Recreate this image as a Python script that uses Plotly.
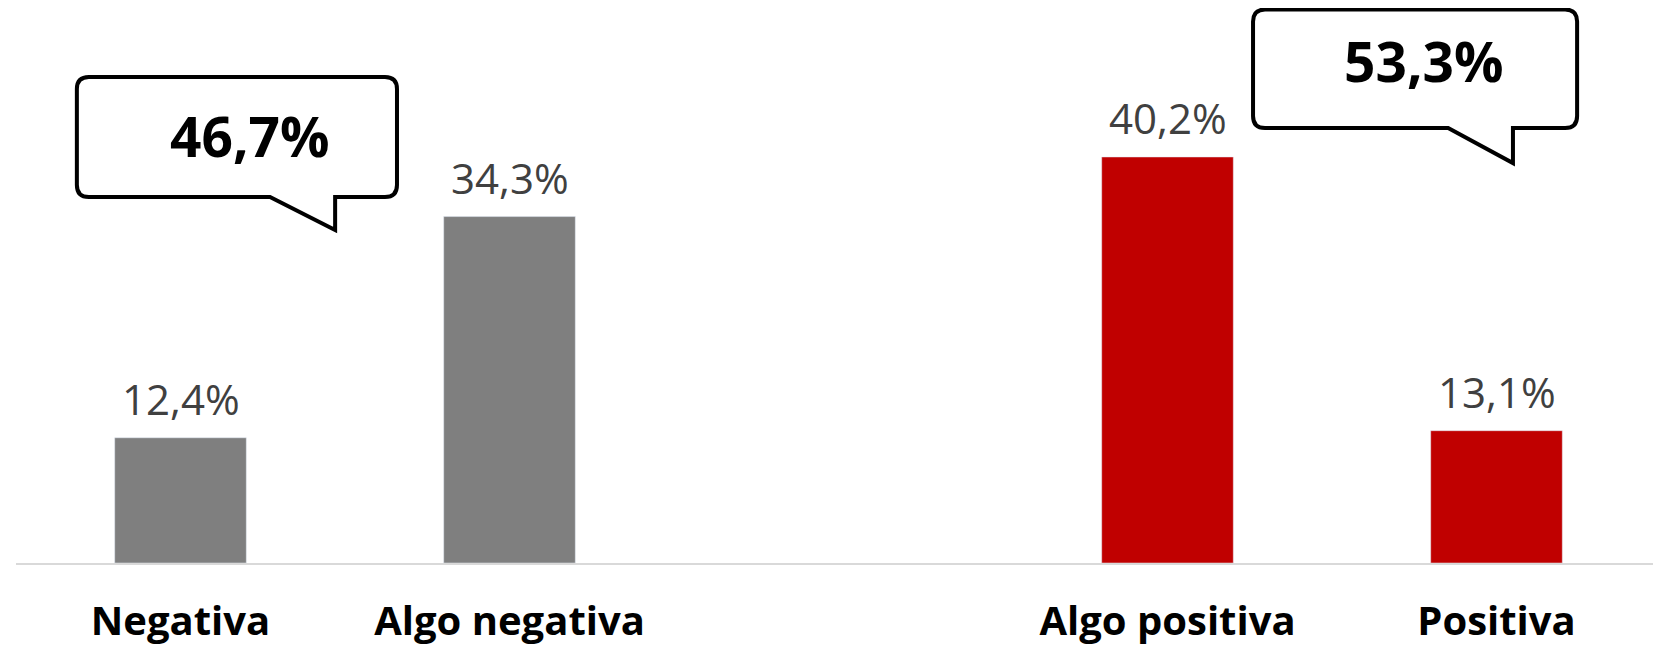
import plotly.graph_objects as go

# ---- data ----
neg_categories = ["Negativa", "Algo negativa"]
neg_values = [12.4, 34.3]
pos_categories = ["Algo positiva", "Positiva"]
pos_values = [40.2, 13.1]
category_order = ["Negativa", "Algo negativa", " ", "Algo positiva", "Positiva"]

neg_total = round(sum(neg_values), 1)
pos_total = round(sum(pos_values), 1)


def fmt(v):
    return f"{v:.1f}%".replace(".", ",")


# ---- layout constants (page body has an 8px margin) ----
W, H = 1653, 640
ML, MR, MT, MB = 8, 0, 0, 85
PW, PH = W - ML - MR, H - MT - MB
PX_PER_UNIT = 10.1
YMAX = PH / PX_PER_UNIT
NCAT = len(category_order)

GRAY = "#7F7F7F"
RED = "#C00000"
LABEL = "#404040"
FONT = "Open Sans"


def xp(idx):
    return (idx + 0.5) / NCAT


def yp(v):
    return v / YMAX


fig = go.Figure()
fig.add_trace(go.Bar(x=neg_categories, y=neg_values, marker_color=GRAY,
                     width=0.4, hoverinfo="skip"))
fig.add_trace(go.Bar(x=pos_categories, y=pos_values, marker_color=RED,
                     width=0.4, hoverinfo="skip"))

annotations = []
for cats, vals in ((neg_categories, neg_values), (pos_categories, pos_values)):
    for c, v in zip(cats, vals):
        annotations.append(dict(x=c, y=v, xref="x", yref="y", text=fmt(v),
                                showarrow=False, xanchor="center", yanchor="bottom",
                                yshift=9,
                                font=dict(family=FONT, size=42, color=LABEL)))


def bubble(x0, x1, ytop, ybot, tail_x, tip_x, tip_y, r_px=12):
    rx, ry = r_px / PW, r_px / PH
    X0, X1, YT, YB = xp(x0), xp(x1), yp(ytop), yp(ybot)
    TX, PX, PY = xp(tail_x), xp(tip_x), yp(tip_y)
    pts = [
        f"M{X0+rx},{YT}", f"L{X1-rx},{YT}", f"Q{X1},{YT} {X1},{YT-ry}",
        f"L{X1},{YB+ry}", f"Q{X1},{YB} {X1-rx},{YB}",
        f"L{PX},{YB}", f"L{PX},{PY}", f"L{TX},{YB}",
        f"L{X0+rx},{YB}", f"Q{X0},{YB} {X0},{YB+ry}",
        f"L{X0},{YT-ry}", f"Q{X0},{YT} {X0+rx},{YT}", "Z",
    ]
    return dict(type="path", xref="paper", yref="paper", path=" ".join(pts),
                line=dict(color="black", width=4), fillcolor="white", layer="above")


shapes = [
    bubble(-0.315, 0.658, 48.12, 36.24, 0.272, 0.470, 32.97),
    bubble(3.26, 4.245, 54.8, 43.07, 3.853, 4.05, 39.6),
]

annotations.append(dict(x=xp(0.211), y=yp(42.3), xref="paper", yref="paper",
                        xanchor="center", yanchor="middle",
                        text=f"<b>{fmt(neg_total)}</b>", showarrow=False,
                        font=dict(family=FONT, size=55, color="black")))
annotations.append(dict(x=xp(3.78), y=yp(49.8), xref="paper", yref="paper",
                        xanchor="center", yanchor="middle",
                        text=f"<b>{fmt(pos_total)}</b>", showarrow=False,
                        font=dict(family=FONT, size=55, color="black")))

fig.update_layout(
    width=W, height=H,
    margin=dict(l=ML, r=MR, t=MT, b=MB),
    paper_bgcolor="white", plot_bgcolor="white",
    showlegend=False, barmode="overlay",
    font=dict(family=FONT),
    shapes=shapes, annotations=annotations,
    xaxis=dict(type="category", categoryorder="array", categoryarray=category_order,
               range=[-0.5, NCAT - 0.5], showline=True, linecolor="#D9D9D9",
               linewidth=2, showgrid=False, zeroline=False, ticks="",
               ticklabelstandoff=22, automargin=False,
               tickfont=dict(family=FONT, size=40, color="black", weight="bold")),
    yaxis=dict(range=[0, YMAX], visible=False, showgrid=False, zeroline=False,
               automargin=False),
)

fig.write_html("out.html")
